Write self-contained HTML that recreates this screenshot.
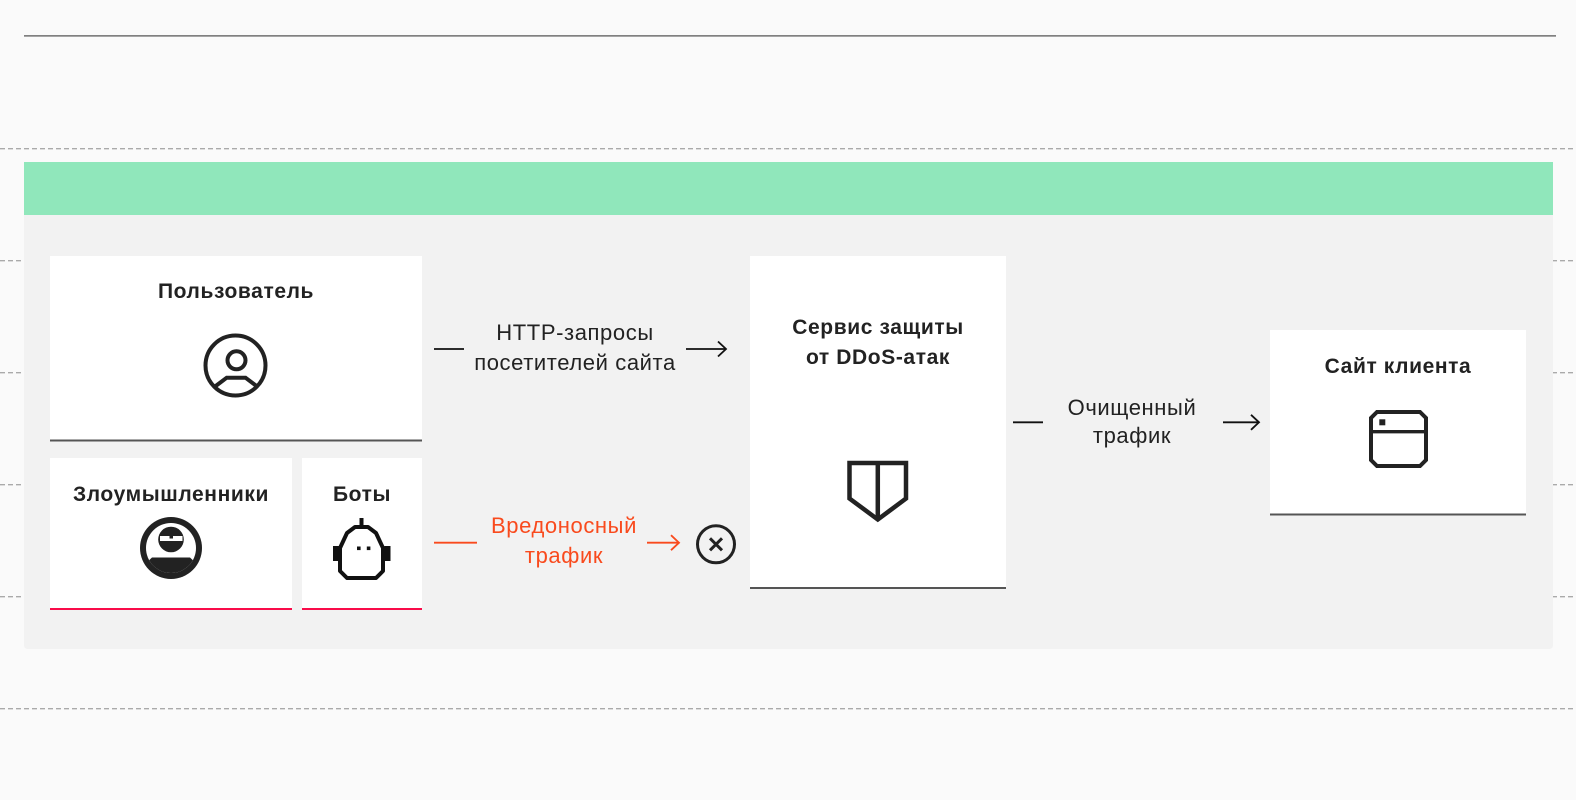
<!DOCTYPE html>
<html>
<head>
<meta charset="utf-8">
<style>
  html,body{margin:0;padding:0;}
  body{width:1576px;height:800px;overflow:hidden;background:#fafafa;position:relative;font-family:"Liberation Sans","DejaVu Sans",sans-serif;}
  svg{position:absolute;left:0;top:0;}
  .t{position:absolute;text-align:center;white-space:nowrap;font-size:21px;line-height:30px;}
  .b{font-weight:bold;color:#222;letter-spacing:0.6px;}
  .r{color:#222;font-size:22px;letter-spacing:0.6px;}
  .red{color:#f94a1d;font-size:22px;letter-spacing:0.6px;}
</style>
</head>
<body>
<svg width="1576" height="800" viewBox="0 0 1576 800" xmlns="http://www.w3.org/2000/svg">
  <!-- top solid line -->
  <rect x="24" y="35" width="1532" height="1.7" fill="#808080"/>
  <!-- dashed guide lines -->
  <g stroke="#aaaaaa" stroke-width="1.4" stroke-dasharray="5 3">
    <line x1="0" y1="148.7" x2="1576" y2="148.7"/>
    <line x1="0" y1="260.7" x2="1576" y2="260.7"/>
    <line x1="0" y1="372.7" x2="1576" y2="372.7"/>
    <line x1="0" y1="484.7" x2="1576" y2="484.7"/>
    <line x1="0" y1="596.7" x2="1576" y2="596.7"/>
    <line x1="0" y1="708.7" x2="1576" y2="708.7"/>
  </g>
  <!-- panel -->
  <path d="M24 162 H1553 V645 Q1553 649 1549 649 H28 Q24 649 24 645 Z" fill="#f2f2f2"/>
  <rect x="24" y="162" width="1529" height="53" fill="#90e7bb"/>

  <!-- cards -->
  <rect x="50" y="256" width="372" height="184" fill="#fff"/>
  <rect x="50" y="439.5" width="372" height="2" fill="#555"/>

  <rect x="50" y="458" width="242" height="150" fill="#fff"/>
  <rect x="50" y="608" width="242" height="2" fill="#f90c4a"/>

  <rect x="302" y="458" width="120" height="150" fill="#fff"/>
  <rect x="302" y="608" width="120" height="2" fill="#f90c4a"/>

  <rect x="750" y="256" width="256" height="331" fill="#fff"/>
  <rect x="750" y="587" width="256" height="2" fill="#555"/>

  <rect x="1270" y="330" width="256" height="184" fill="#fff"/>
  <rect x="1270" y="513.5" width="256" height="2" fill="#555"/>

  <!-- user icon -->
  <g fill="none" stroke="#222" stroke-width="4">
    <circle cx="235.5" cy="365.5" r="30"/>
    <circle cx="236.5" cy="360.3" r="9"/>
    <path d="M215.7 386 L226.7 377.7 L245.5 377.7 L256.5 386"/>
  </g>

  <!-- hacker icon -->
  <defs>
    <clipPath id="hc"><circle cx="171" cy="548" r="25"/></clipPath>
  </defs>
  <circle cx="171" cy="548" r="31" fill="#222"/>
  <circle cx="171" cy="548" r="25" fill="#fff"/>
  <g clip-path="url(#hc)">
    <path d="M152 557.5 L190 557.5 L199 566 L199 590 L143 590 L143 566 Z" fill="#222"/>
  </g>
  <circle cx="171" cy="539.5" r="12.8" fill="#222"/>
  <rect x="160" y="536" width="22.5" height="5" fill="#fff"/>
  <rect x="169.5" y="536" width="3.5" height="2.5" fill="#222"/>

  <!-- robot icon -->
  <rect x="359.5" y="518" width="4" height="9" fill="#111"/>
  <path d="M340 548 L340 571 L347 578 L376 578 L383 571 L383 548 L376 533 L368 527 L355 527 L347 533 Z" fill="none" stroke="#111" stroke-width="4" stroke-linejoin="round"/>
  <rect x="333" y="546" width="6" height="15" fill="#111"/>
  <rect x="384.5" y="546" width="6" height="15" fill="#111"/>
  <rect x="357" y="546.5" width="3.6" height="3.6" fill="#111"/>
  <rect x="366.8" y="546.5" width="3.6" height="3.6" fill="#111"/>

  <!-- shield icon -->
  <g fill="none" stroke="#222" stroke-width="4.5" stroke-linejoin="miter">
    <path d="M849.5 463 L906 463 L906 498.5 L877.8 519.5 L849.5 498.5 Z"/>
    <line x1="877.8" y1="463" x2="877.8" y2="519.5"/>
  </g>

  <!-- browser icon -->
  <g fill="none" stroke="#222" stroke-width="4">
    <path d="M1377 412 L1420 412 L1426 418 L1426 460 L1420 466 L1377 466 L1371 460 L1371 418 Z"/>
    <line x1="1371" y1="431.7" x2="1426" y2="431.7" stroke-width="3.3"/>
  </g>
  <rect x="1379.3" y="419.3" width="6" height="6" fill="#222"/>

  <!-- connectors: HTTP -->
  <g stroke="#111" stroke-width="1.8" fill="none">
    <line x1="434" y1="349" x2="464" y2="349"/>
    <line x1="686" y1="349" x2="726" y2="349"/>
    <path d="M718 341.5 L726 349 L718 356.5"/>
    <line x1="1013" y1="422.3" x2="1043" y2="422.3"/>
    <line x1="1223" y1="422.3" x2="1259" y2="422.3"/>
    <path d="M1251 414.8 L1259 422.3 L1251 429.8"/>
  </g>
  <!-- connectors: malicious -->
  <g stroke="#f94a1d" stroke-width="1.8" fill="none">
    <line x1="434" y1="542.7" x2="477" y2="542.7"/>
    <line x1="647" y1="542.7" x2="679" y2="542.7"/>
    <path d="M671 535.2 L679 542.7 L671 550.2"/>
  </g>
  <!-- blocked icon -->
  <g stroke="#222" fill="none">
    <circle cx="716" cy="544.3" r="18.5" stroke-width="3"/>
    <path d="M710 538.3 L722 550.3 M722 538.3 L710 550.3" stroke-width="3"/>
  </g>
</svg>

<!-- titles -->
<div class="t b" style="left:50px;width:372px;top:277px;">Пользователь</div>
<div class="t b" style="left:50px;width:242px;top:480px;">Злоумышленники</div>
<div class="t b" style="left:302px;width:120px;top:480px;">Боты</div>
<div class="t b" style="left:750px;width:256px;top:313px;">Сервис защиты<br>от DDoS-атак</div>
<div class="t b" style="left:1270px;width:256px;top:352px;">Сайт клиента</div>

<!-- labels -->
<div class="t r" style="left:425px;width:300px;top:318px;">HTTP-запросы<br>посетителей сайта</div>
<div class="t red" style="left:464px;width:200px;top:511px;">Вредоносный<br>трафик</div>
<div class="t r" style="left:1032px;width:200px;top:394px;line-height:28px;">Очищенный<br>трафик</div>
</body>
</html>
